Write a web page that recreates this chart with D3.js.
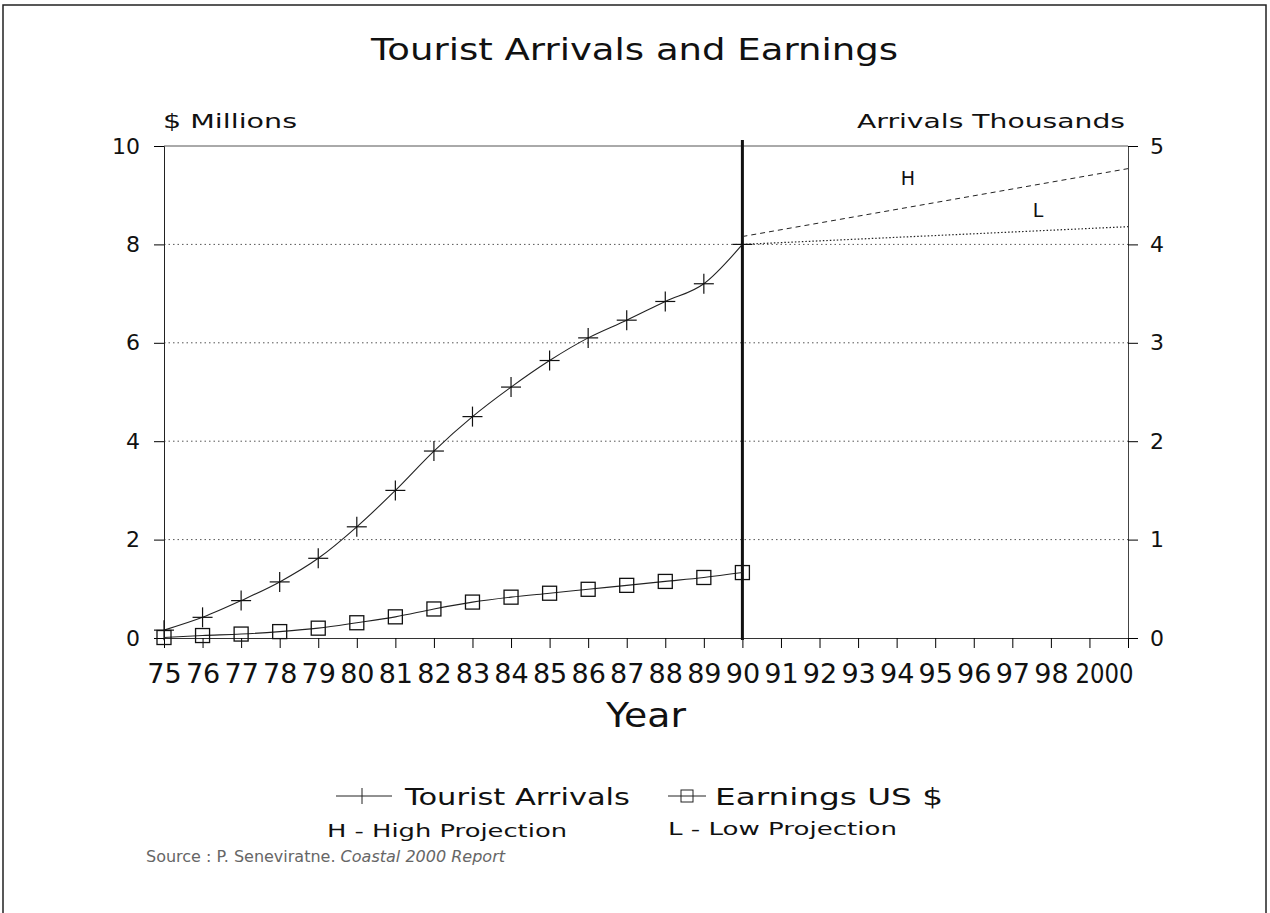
<!DOCTYPE html>
<html><head><meta charset="utf-8">
<script src="https://cdn.jsdelivr.net/npm/d3@7"></script>
<style>
body{margin:0;background:#fff;}
text{font-family:"DejaVu Sans","Liberation Sans",Arial,sans-serif;fill:#111;}
</style></head>
<body><svg id="c" width="1270" height="913"></svg>
<script>
const years = [75,76,77,78,79,80,81,82,83,84,85,86,87,88,89,90];
const arrivalsThousands = [0.08,0.21,0.38,0.57,0.81,1.13,1.50,1.90,2.25,2.55,2.82,3.05,3.23,3.42,3.60,4.00];
const earningsMillions = [0.01,0.05,0.08,0.13,0.20,0.31,0.43,0.59,0.73,0.83,0.91,0.99,1.07,1.15,1.23,1.33];
const projYears = [90,100];
const highProjection = [4.08,4.77];
const lowProjection = [4.00,4.18];
const xTickValues = d3.range(75,101);
const xTickLabels = ["75","76","77","78","79","80","81","82","83","84","85","86","87","88","89","90","91","92","93","94","95","96","97","98","","2000"];
const leftTicks = [0,2,4,6,8,10];
const rightTicks = [0,1,2,3,4,5];
const gridValues = [2,4,6,8];

const svg = d3.select("#c");
const L=164,R=1128,T=146,B=638;
const x = d3.scaleLinear().domain([75,100]).range([L,R]);
const y = d3.scaleLinear().domain([0,10]).range([B,T]);
const yR = d3.scaleLinear().domain([0,5]).range([B,T]);
const FF = "DejaVu Sans, Liberation Sans, Arial, sans-serif";

function txt(xp, yp, size, str, len, anchor){
  const t = svg.append("text").attr("x",xp).attr("y",yp).attr("font-size",size).text(str);
  if(len){ t.attr("textLength",len).attr("lengthAdjust","spacingAndGlyphs"); }
  if(anchor){ t.attr("text-anchor",anchor); }
  return t;
}

// outer frame
svg.append("rect").attr("x",3).attr("y",5).attr("width",1263).attr("height",915)
  .attr("fill","none").attr("stroke","#222").attr("stroke-width",1.5);

// title and axis titles
txt(371, 60, 31, "Tourist Arrivals and Earnings", 527);
txt(163, 128, 19, "$ Millions", 134);
txt(857, 128, 19, "Arrivals Thousands", 268);

// gridlines
svg.append("g").selectAll("line").data(gridValues).join("line")
  .attr("x1",L).attr("x2",R).attr("y1",d=>y(d)).attr("y2",d=>y(d))
  .attr("stroke","#555").attr("stroke-width",1).attr("stroke-dasharray","1.5,3");

// top frame line
svg.append("line").attr("x1",L).attr("x2",R).attr("y1",T).attr("y2",T).attr("stroke","#555");

// left axis
const gl = svg.append("g").attr("transform",`translate(${L},0)`)
  .call(d3.axisLeft(y).tickValues(leftTicks).tickSize(10).tickPadding(14).tickFormat(d3.format("d")));
gl.select(".domain").attr("stroke","#222");
gl.selectAll("text").attr("font-size",22).style("font-family",FF);

// right axis
const gr = svg.append("g").attr("transform",`translate(${R},0)`)
  .call(d3.axisRight(yR).tickValues(rightTicks).tickSize(10).tickPadding(12).tickFormat(d3.format("d")));
gr.select(".domain").attr("stroke","#444");
gr.selectAll("text").attr("font-size",22).style("font-family",FF);

// bottom axis
const gb = svg.append("g").attr("transform",`translate(0,${B})`)
  .call(d3.axisBottom(x).tickValues(xTickValues).tickSize(10).tickPadding(16)
    .tickFormat((d,i)=>xTickLabels[i]));
gb.select(".domain").attr("stroke","#333");
gb.selectAll("text").attr("font-size",27).style("font-family",FF);
gb.selectAll("text").filter(d=>d===100).attr("text-anchor","end").attr("dx",5)
  .attr("textLength",58).attr("lengthAdjust","spacingAndGlyphs");

txt(606, 727, 33, "Year", 80);

// vertical divider at 1990
svg.append("line").attr("x1",x(90)).attr("x2",x(90)).attr("y1",T-6).attr("y2",B+2)
  .attr("stroke","#111").attr("stroke-width",3);

// projections
const projLine = d3.line().x((d,i)=>x(projYears[i])).y(d=>yR(d));
svg.append("path").datum(highProjection).attr("d",projLine).attr("fill","none")
  .attr("stroke","#222").attr("stroke-width",1).attr("stroke-dasharray","5,4");
svg.append("path").datum(lowProjection).attr("d",projLine).attr("fill","none")
  .attr("stroke","#222").attr("stroke-width",1.2).attr("stroke-dasharray","1.5,2");
txt(908, 185, 19, "H", null, "middle");
txt(1038, 217, 19, "L", null, "middle");

// arrivals
const lineA = d3.line().x((d,i)=>x(years[i])).y(d=>yR(d)).curve(d3.curveMonotoneX);
svg.append("path").datum(arrivalsThousands).attr("d",lineA).attr("fill","none").attr("stroke","#222").attr("stroke-width",1.1);
const ms = svg.append("g").selectAll("g").data(arrivalsThousands).join("g")
  .attr("transform",(d,i)=>`translate(${x(years[i])},${yR(d)})`);
ms.append("line").attr("x1",-10).attr("x2",10).attr("stroke","#111").attr("stroke-width",1.2);
ms.append("line").attr("y1",-10).attr("y2",10).attr("stroke","#111").attr("stroke-width",1.2);

// earnings
const lineE = d3.line().x((d,i)=>x(years[i])).y(d=>y(d)).curve(d3.curveMonotoneX);
svg.append("path").datum(earningsMillions).attr("d",lineE).attr("fill","none").attr("stroke","#222").attr("stroke-width",1.1);
svg.append("g").selectAll("rect").data(earningsMillions).join("rect")
  .attr("x",(d,i)=>x(years[i])-7).attr("y",d=>y(d)-7).attr("width",14).attr("height",14)
  .attr("fill","none").attr("stroke","#111").attr("stroke-width",1.3);

// legend
svg.append("line").attr("x1",336).attr("x2",392).attr("y1",796).attr("y2",796).attr("stroke","#222");
svg.append("line").attr("x1",362).attr("x2",362).attr("y1",788).attr("y2",804).attr("stroke","#222");
txt(405, 805, 23, "Tourist Arrivals", 225);
svg.append("line").attr("x1",668).attr("x2",706).attr("y1",796).attr("y2",796).attr("stroke","#222");
svg.append("rect").attr("x",681).attr("y",790).attr("width",12).attr("height",12).attr("fill","#fff").attr("stroke","#222");
svg.append("line").attr("x1",681).attr("x2",693).attr("y1",796).attr("y2",796).attr("stroke","#222");
txt(715, 805, 23, "Earnings US $", 228);
txt(327, 837, 18, "H - High Projection", 240);
txt(668, 835, 18, "L - Low Projection", 229);

// source
const src = svg.append("text").attr("x",146).attr("y",862).attr("font-size",16)
  .attr("textLength",359).attr("lengthAdjust","spacing").style("fill","#666");
src.append("tspan").text("Source : P. Seneviratne. ");
src.append("tspan").attr("font-style","italic").text("Coastal 2000 Report");
</script></body></html>
